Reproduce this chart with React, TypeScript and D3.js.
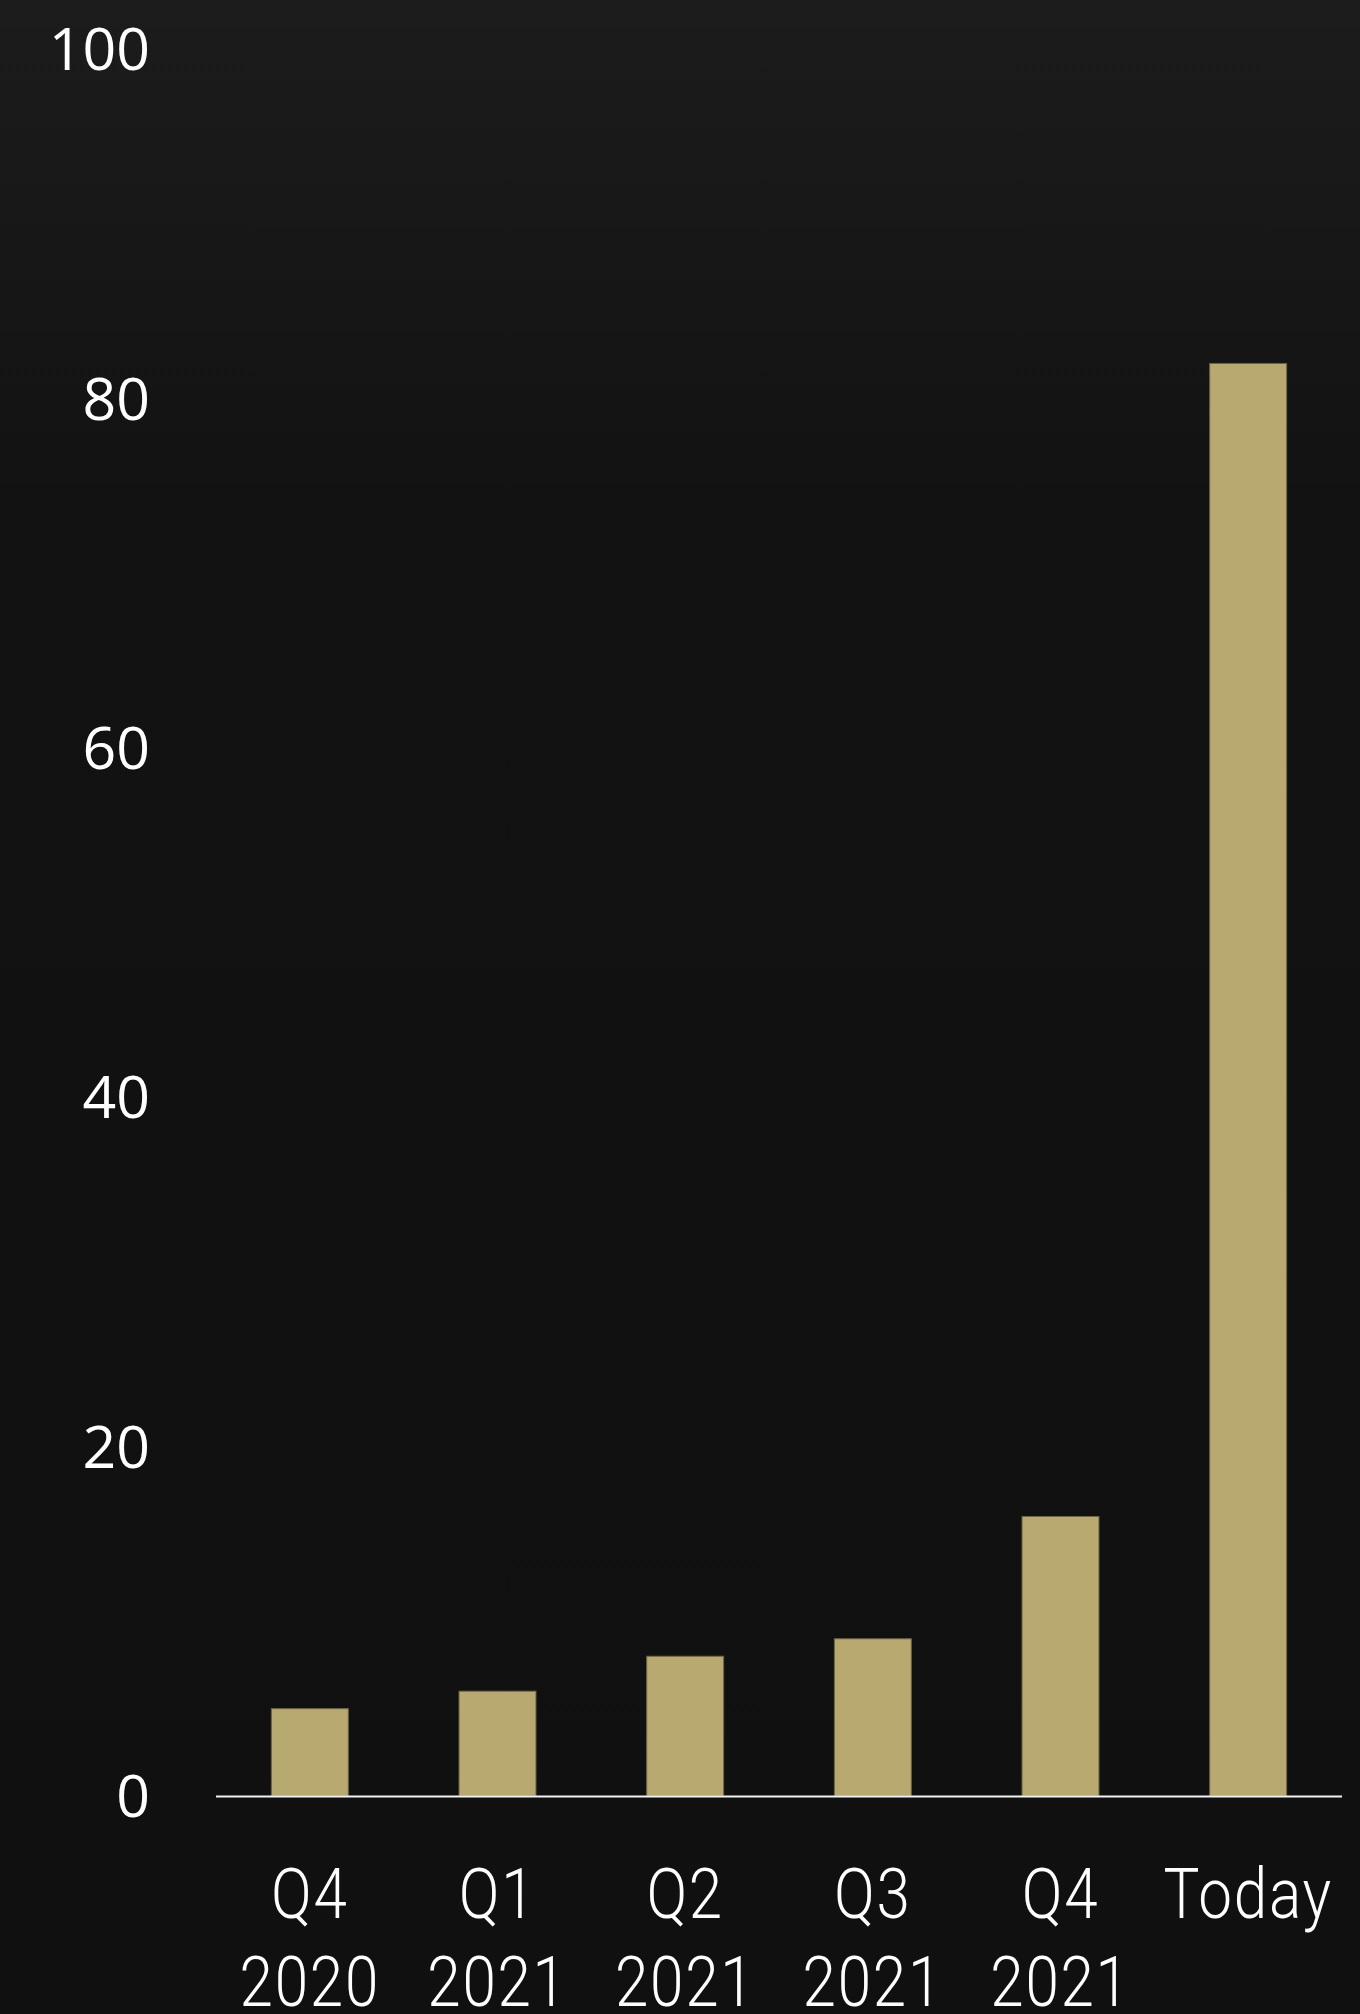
import React, { useEffect } from "react";
import * as d3 from "d3";

const categories = ["Q4|2020", "Q1|2021", "Q2|2021", "Q3|2021", "Q4|2021", "Today"];
const values = [5, 6, 8, 9, 16, 82];
const yTicks = [0, 20, 40, 60, 80, 100];

const W = 1360;
const H = 2014;

export default function App() {
  useEffect(() => {
    document.body.style.margin = "0";
    document.body.style.background = "#111";
  }, []);

  const x = d3
    .scaleBand<string>()
    .domain(categories)
    .range([216, 1342])
    .paddingInner(0.59)
    .paddingOuter(0.295);
  const y = d3.scaleLinear().domain([0, 100]).range([1796, 49]);

  return (
    <svg width={W} height={H} style={{ position: "absolute", left: 0, top: 0, display: "block" }}>
      <defs>
        <linearGradient id="bg" x1="0" y1="0" x2="0" y2="1">
          <stop offset="0" stopColor="#1c1c1c" />
          <stop offset="0.25" stopColor="#121212" />
          <stop offset="1" stopColor="#101010" />
        </linearGradient>
      </defs>
      <rect x={0} y={0} width={W} height={H} fill="url(#bg)" />
      {yTicks.map((t) => (
        <text
          key={t}
          x={150}
          y={y(t)}
          dy="0.36em"
          textAnchor="end"
          fill="#ffffff"
          fontFamily="'Open Sans', sans-serif"
          fontSize={59}
        >
          {t}
        </text>
      ))}
      {categories.map((c, i) => (
        <rect
          key={c}
          x={x(c)!}
          y={y(values[i])}
          width={x.bandwidth()}
          height={y(0) - y(values[i])}
          fill="#b8a970"
          stroke="#6e6444"
          strokeWidth={1}
        />
      ))}
      <line x1={216} x2={1342} y1={y(0) + 0.5} y2={y(0) + 0.5} stroke="#f2f2f2" strokeWidth={2} />
      {categories.map((c) => {
        const parts = c.split("|");
        const cx = x(c)! + x.bandwidth() / 2;
        return (
          <g key={"l" + c} transform={`translate(${cx},0) scale(0.86,1)`}>
            <text
              textAnchor="middle"
              fill="#ffffff"
              fontFamily="Roboto, sans-serif"
              fontWeight={300}
              fontSize={70}
              letterSpacing={2}
            >
              {parts.map((p, j) => (
                <tspan key={j} x={0} y={1918 + j * 88}>
                  {p}
                </tspan>
              ))}
            </text>
          </g>
        );
      })}
    </svg>
  );
}
